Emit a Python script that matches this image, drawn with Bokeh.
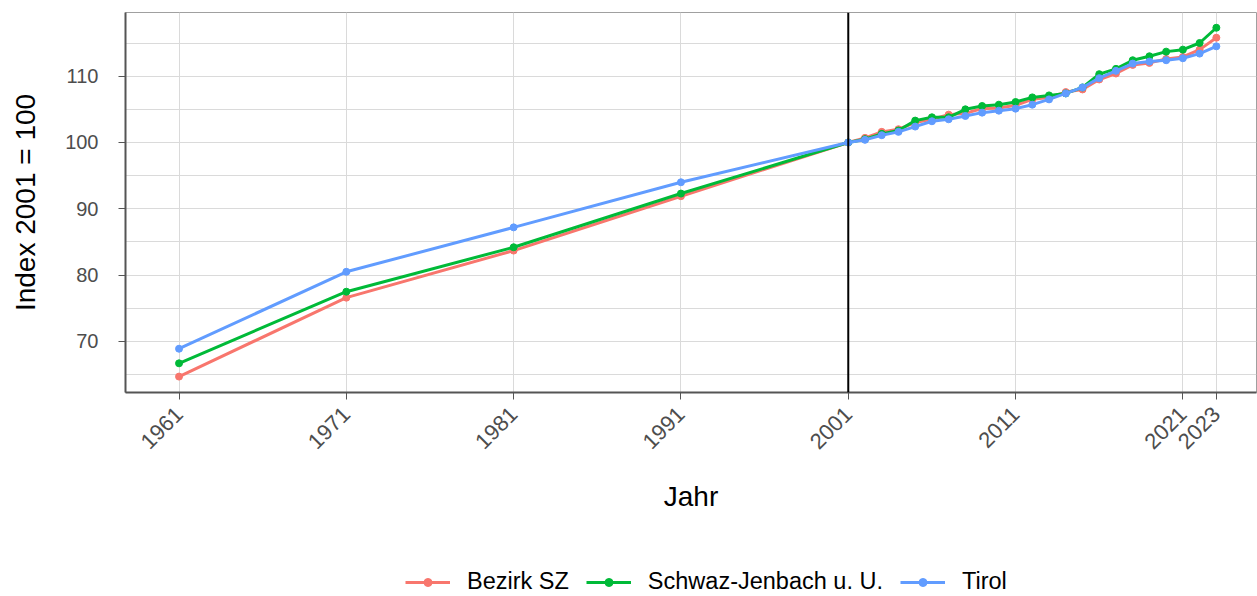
import math
from bokeh.plotting import figure
from bokeh.layouts import column
from bokeh.models import FixedTicker, Span, Legend, LegendItem, Range1d
from bokeh.embed import file_html
from bokeh.resources import INLINE

years = [1961, 1971, 1981, 1991, 2001, 2002, 2003, 2004, 2005, 2006, 2007, 2008,
         2009, 2010, 2011, 2012, 2013, 2014, 2015, 2016, 2017, 2018, 2019, 2020,
         2021, 2022, 2023]
bezirk_sz = [64.7, 76.6, 83.7, 91.9, 100.0, 100.7, 101.6, 102.0, 103.0, 103.5, 104.2, 104.4,
             105.1, 105.2, 105.6, 106.5, 106.8, 107.6, 108.0, 109.5, 110.4, 111.7, 112.0, 112.6,
             112.9, 114.0, 115.8]
schwaz_jenbach = [66.7, 77.5, 84.2, 92.3, 100.0, 100.5, 101.3, 101.8, 103.3, 103.8, 103.8, 105.0,
                  105.5, 105.7, 106.1, 106.8, 107.1, 107.4, 108.3, 110.3, 111.1, 112.4, 113.0, 113.7,
                  114.0, 115.0, 117.3]
tirol = [68.9, 80.5, 87.2, 94.0, 100.0, 100.4, 101.1, 101.6, 102.4, 103.2, 103.5, 104.0,
         104.5, 104.8, 105.1, 105.7, 106.5, 107.4, 108.3, 109.7, 110.8, 111.9, 112.2, 112.4,
         112.7, 113.4, 114.5]

series_names = ["Bezirk SZ", "Schwaz-Jenbach u. U.", "Tirol"]
colors = ["#F8766D", "#00BA38", "#619CFF"]
x_ticks = [1961, 1971, 1981, 1991, 2001, 2011, 2021, 2023]
y_ticks = [70, 80, 90, 100, 110]
y_minor = [65, 75, 85, 95, 105, 115]

p = figure(width=1257, height=536, output_backend="svg", toolbar_location=None,
           x_range=Range1d(1957.8, 2025.4), y_range=Range1d(62.3, 119.6),
           min_border_left=125, min_border_top=12, min_border_right=1,
           min_border_bottom=144)
p.background_fill_color = "white"
p.border_fill_color = "white"
p.outline_line_color = "#A0A0A0"
p.outline_line_width = 1

p.xaxis.ticker = FixedTicker(ticks=x_ticks)
p.yaxis.ticker = FixedTicker(ticks=y_ticks, minor_ticks=y_minor)
p.xgrid.ticker = FixedTicker(ticks=x_ticks)
p.ygrid.ticker = FixedTicker(ticks=y_ticks, minor_ticks=y_minor)
p.xgrid.grid_line_color = "#DADADA"
p.ygrid.grid_line_color = "#DADADA"
p.ygrid.minor_grid_line_color = "#DADADA"
p.xgrid.grid_line_width = 1
p.ygrid.grid_line_width = 1

for ax in (p.xaxis, p.yaxis):
    ax.axis_line_color = "#555555"
    ax.axis_line_width = 2
    ax.major_tick_line_color = "#555555"
    ax.major_tick_line_width = 1
    ax.major_tick_out = 7
    ax.major_tick_in = 0
    ax.minor_tick_line_color = None
    ax.major_label_text_color = "#4D4D4D"
    ax.major_label_text_font = "Liberation Sans"
    ax.axis_label_text_font = "Liberation Sans"
    ax.axis_label_text_font_style = "normal"
    ax.axis_label_text_color = "black"
    ax.axis_label_text_font_size = "28px"

p.xaxis.major_label_text_font_size = "22px"
p.yaxis.major_label_text_font_size = "20px"
p.xaxis.major_label_orientation = math.pi / 4
p.xaxis.axis_label = "Jahr"
p.yaxis.axis_label = "Index 2001 = 100"
p.xaxis.axis_label_standoff = 22
p.yaxis.axis_label_standoff = 21
p.xaxis.major_label_standoff = 11
p.yaxis.major_label_standoff = 20

p.add_layout(Span(location=2001, dimension="height", line_color="black", line_width=2))

all_series = [bezirk_sz, schwaz_jenbach, tirol]
for name, vals, col in zip(series_names, all_series, colors):
    p.line(years, vals, line_color=col, line_width=3)
    p.scatter(years, vals, fill_color=col, line_color=col, size=7)

# legend strip below the chart (series drawn out of view so the legend has glyphs)
lg = figure(width=1257, height=60, output_backend="svg", toolbar_location=None,
            x_range=Range1d(0, 1), y_range=Range1d(0, 1),
            x_axis_type=None, y_axis_type=None,
            min_border_left=0, min_border_right=0, min_border_top=0, min_border_bottom=0)
lg.outline_line_color = None
lg.background_fill_color = "white"
lg.border_fill_color = "white"
lg.grid.visible = False

items = []
for name, vals, col in zip(series_names, all_series, colors):
    r1 = lg.line(years, vals, line_color=col, line_width=3)
    r2 = lg.scatter(years, vals, fill_color=col, line_color=col, size=7)
    items.append(LegendItem(label=name, renderers=[r1, r2]))

legend = Legend(items=items, orientation="horizontal", location=(280, 1),
                label_text_font="Liberation Sans", label_text_font_size="23.5px",
                label_text_color="black", glyph_width=45, glyph_height=20,
                label_standoff=17, spacing=17, border_line_color=None,
                background_fill_alpha=0, margin=0, padding=0)
lg.add_layout(legend, "center")

layout = column(p, lg, spacing=0)
open("out.html", "w").write(file_html(layout, INLINE))
